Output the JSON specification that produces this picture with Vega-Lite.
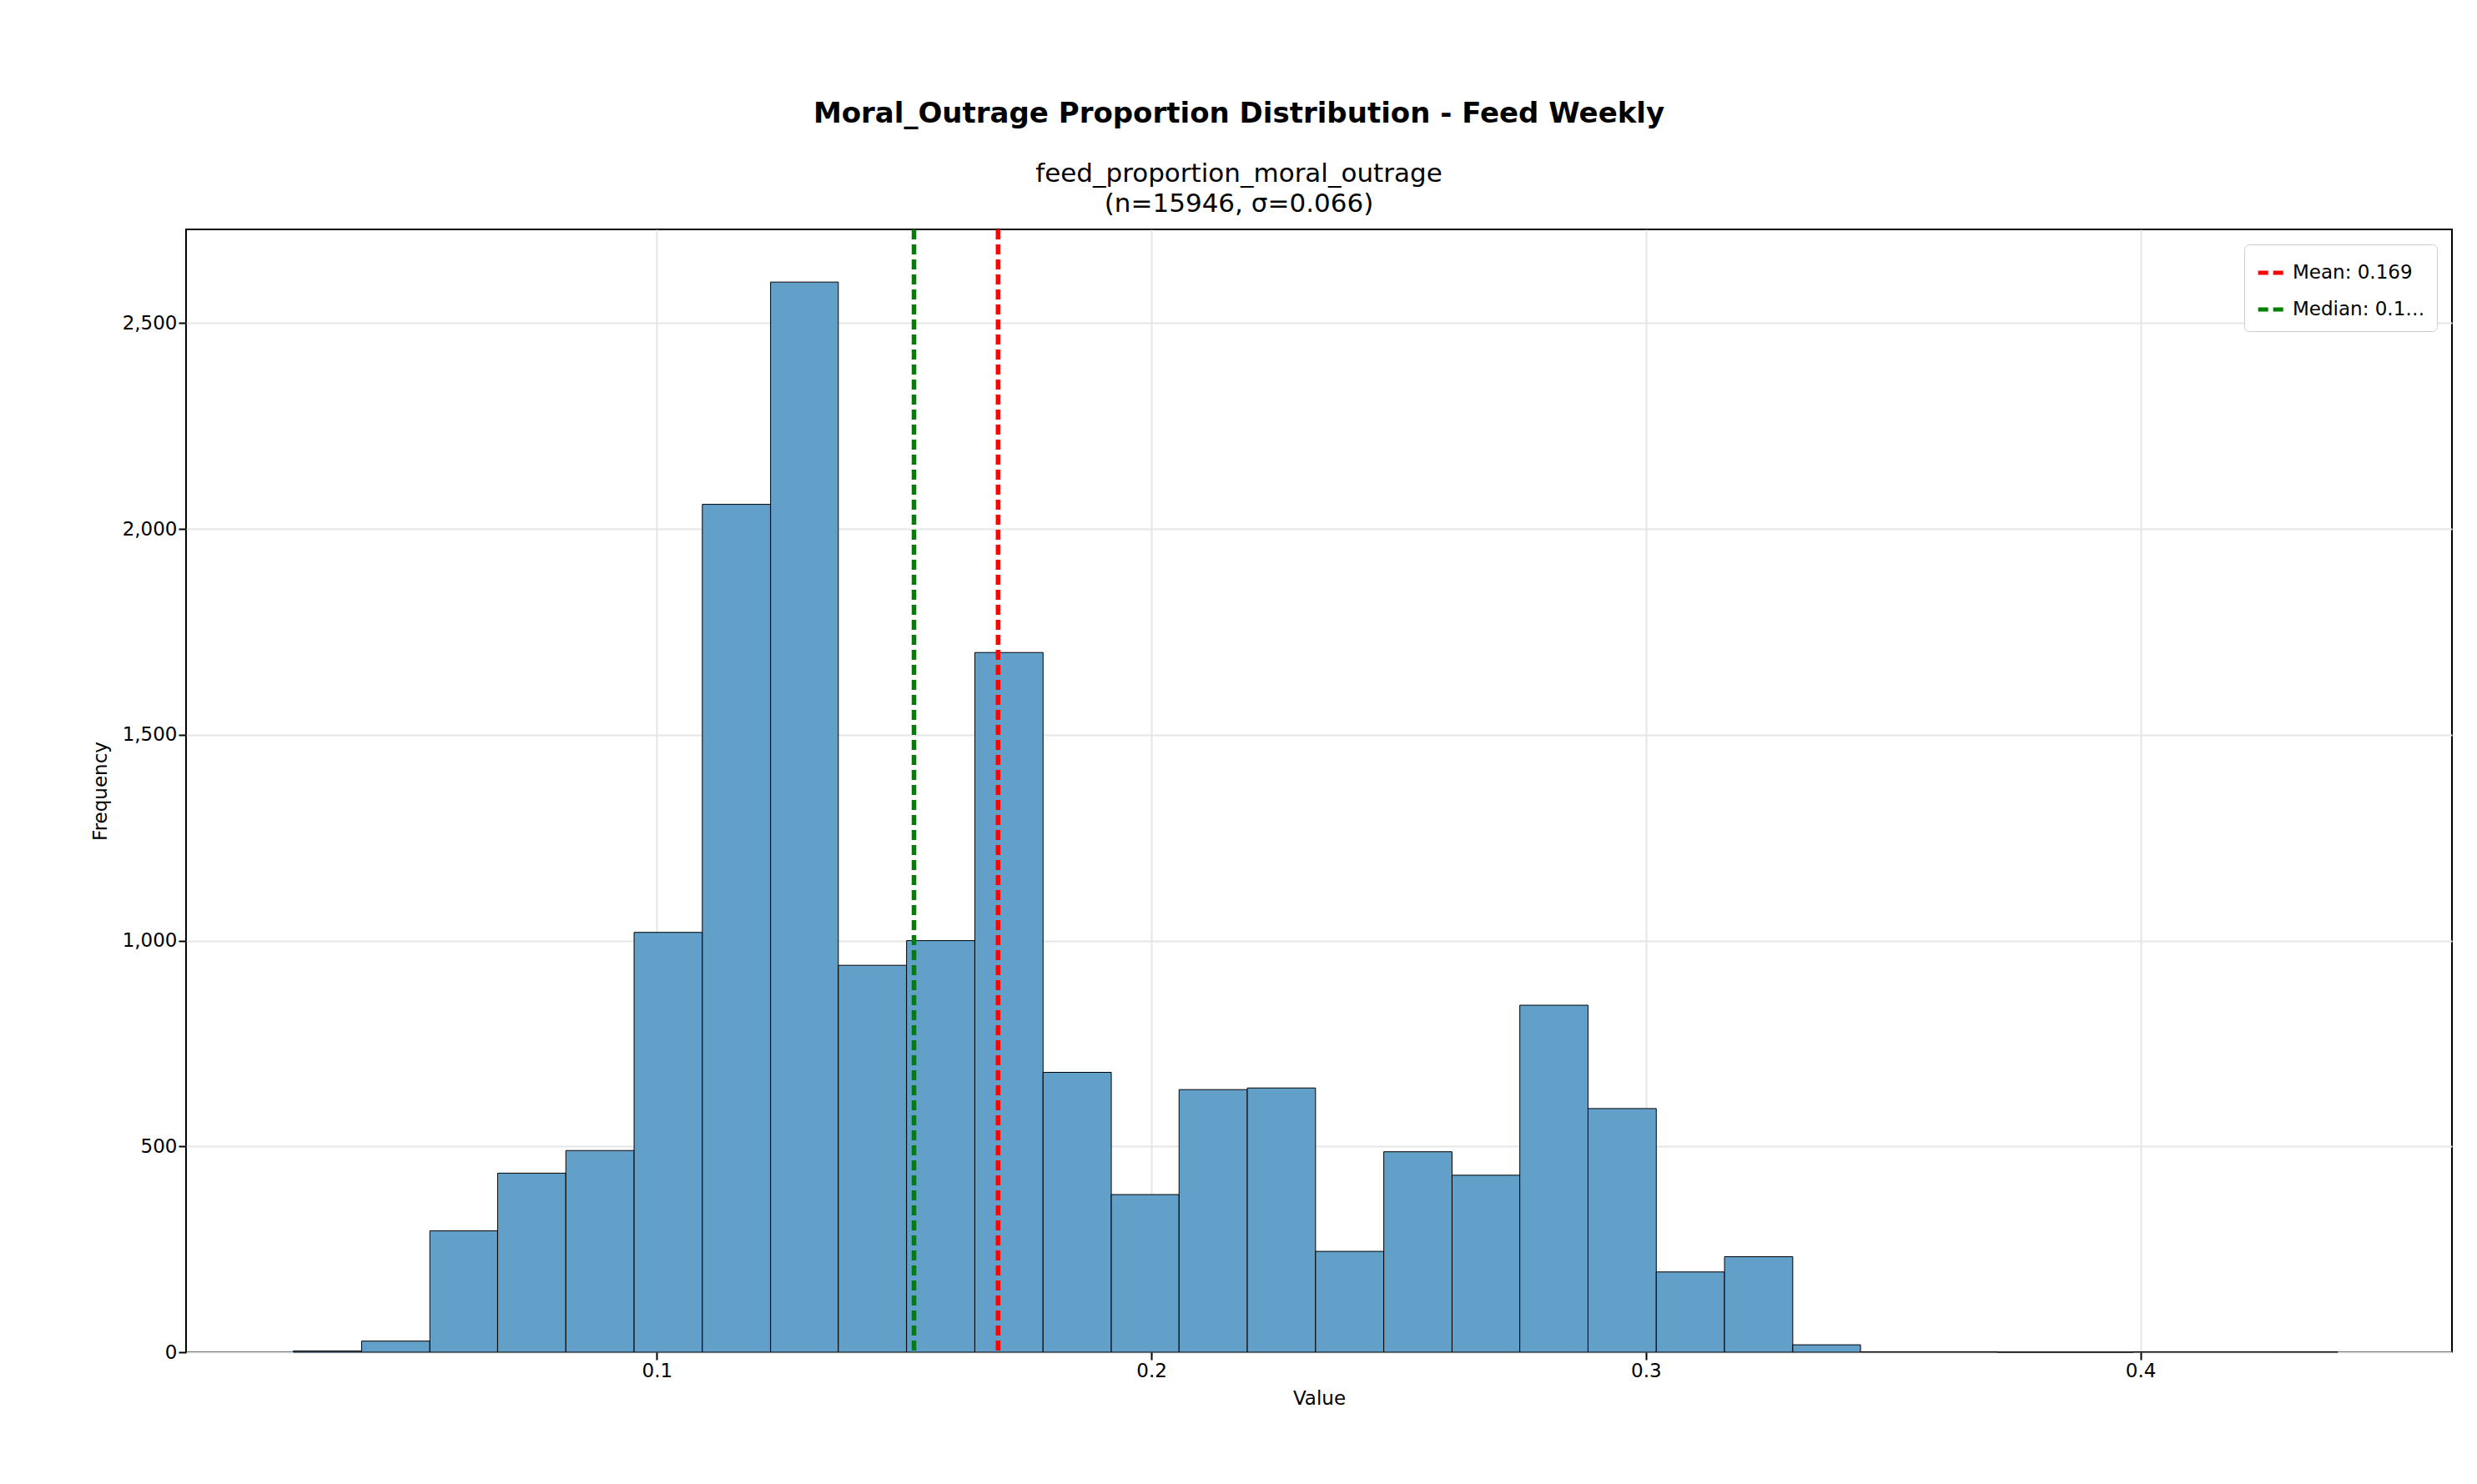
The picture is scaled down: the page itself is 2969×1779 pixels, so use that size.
{
"$schema":"https://vega.github.io/schema/vega-lite/v6.json",
"autosize":{"type":"none"},
"width":2716,"height":1346,
"padding":{"left":223,"top":275,"right":30,"bottom":158},
"background":"white",
"title":{"text":"Moral_Outrage Proportion Distribution - Feed Weekly","subtitle":["feed_proportion_moral_outrage","(n=15946, σ=0.066)"],"anchor":"middle","fontSize":34,"fontWeight":"bold","font":"DejaVu Sans","subtitleFont":"DejaVu Sans","subtitleFontSize":31,"subtitleColor":"black","subtitleLineHeight":36,"subtitlePadding":40,"offset":12,"dx":-96,"color":"black"},
"config":{"view":{"stroke":"black","strokeWidth":2},"font":"DejaVu Sans",
"axis":{"labelFont":"DejaVu Sans","titleFont":"DejaVu Sans","labelFontSize":23,"titleFontSize":23,"titleFontWeight":"normal","labelColor":"black","titleColor":"black","grid":true,"gridColor":"#e5e5e5","gridWidth":2,"domain":false,"tickColor":"black","tickSize":9,"tickWidth":2}},
"layer":[
{"data":{"values":[
{"s":0.0265,"e":0.0403,"c":3},{"s":0.0403,"e":0.0541,"c":27},{"s":0.0541,"e":0.0678,"c":295},{"s":0.0678,"e":0.0816,"c":435},{"s":0.0816,"e":0.0954,"c":490},{"s":0.0954,"e":0.1092,"c":1020},{"s":0.1092,"e":0.1230,"c":2060},{"s":0.1230,"e":0.1367,"c":2600},{"s":0.1367,"e":0.1505,"c":940},{"s":0.1505,"e":0.1643,"c":1000},{"s":0.1643,"e":0.1781,"c":1700},{"s":0.1781,"e":0.1919,"c":680},{"s":0.1919,"e":0.2056,"c":383},{"s":0.2056,"e":0.2194,"c":638},{"s":0.2194,"e":0.2332,"c":642},{"s":0.2332,"e":0.2470,"c":245},{"s":0.2470,"e":0.2608,"c":487},{"s":0.2608,"e":0.2745,"c":430},{"s":0.2745,"e":0.2883,"c":843},{"s":0.2883,"e":0.3021,"c":592},{"s":0.3021,"e":0.3159,"c":195},{"s":0.3159,"e":0.3297,"c":232},{"s":0.3297,"e":0.3434,"c":18},{"s":0.3434,"e":0.3572,"c":1},{"s":0.3572,"e":0.3710,"c":1},{"s":0.3710,"e":0.3848,"c":0},{"s":0.3848,"e":0.3986,"c":0},{"s":0.3986,"e":0.4123,"c":1},{"s":0.4123,"e":0.4261,"c":1},{"s":0.4261,"e":0.4399,"c":1}]},
"mark":{"type":"rect","fill":"#62a0ca","stroke":"black","strokeWidth":1},
"encoding":{"x":{"field":"s","type":"quantitative","scale":{"domain":[0.0048,0.463],"nice":false,"zero":false},"axis":{"values":[0.1,0.2,0.3,0.4],"format":".1f","title":"Value","titlePadding":10}},"x2":{"field":"e"},
"y":{"field":"c","type":"quantitative","scale":{"domain":[0,2728],"nice":false},"axis":{"values":[0,500,1000,1500,2000,2500],"title":"Frequency","titlePadding":14}},"y2":{"datum":0}}},
{"data":{"values":[{"v":0.169,"k":"Mean: 0.169"},{"v":0.152,"k":"Median: 0.152"}]},
"mark":{"type":"rule","strokeDash":[12,6],"strokeWidth":5.5},
"encoding":{"x":{"field":"v","type":"quantitative"},
"color":{"field":"k","type":"nominal","scale":{"domain":["Mean: 0.169","Median: 0.152"],"range":["red","green"]},
"legend":{"title":null,"orient":"top-right","symbolType":"stroke","symbolStrokeWidth":5,"symbolDash":[12,6],"symbolSize":1200,"labelFontSize":23,"labelColor":"black","labelFont":"DejaVu Sans","strokeColor":"#cccccc","fillColor":"white","padding":14,"cornerRadius":6,"rowPadding":12,"offset":18}}}}
]}
